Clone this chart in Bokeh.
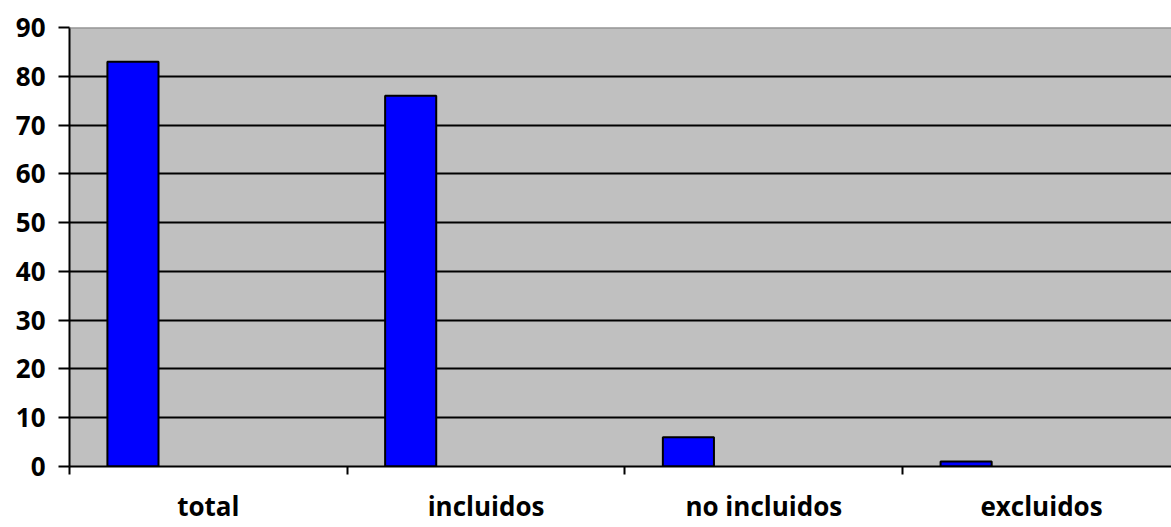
from bokeh.plotting import figure
from bokeh.models import Range1d, FixedTicker, Span
from bokeh.embed import file_html
from bokeh.resources import INLINE
import numpy as np

categories = ["total", "incluidos", "no incluidos", "excluidos"]
values = [83, 76, 6, 1]
y_ticks = [0, 10, 20, 30, 40, 50, 60, 70, 80, 90]

FONT = "Open Sans"
idx = np.arange(len(categories))
bar_offset = 0.2285
bar_width = 0.184

p = figure(width=1171, height=527, output_backend="svg", toolbar_location=None,
           x_range=Range1d(0, 3.968), y_range=Range1d(0, 90),
           min_border_left=69, min_border_right=0, min_border_top=27, min_border_bottom=61)
p.background_fill_color = "#C0C0C0"
p.border_fill_color = "white"
p.outline_line_color = None

p.vbar(x=idx + bar_offset, top=values, width=bar_width, bottom=0,
       fill_color="#0000FF", line_color="black", line_width=2)

# grid
p.xgrid.grid_line_color = None
p.ygrid.ticker = FixedTicker(ticks=y_ticks[1:-1])
p.ygrid.grid_line_color = "black"
p.ygrid.grid_line_width = 2
p.ygrid.level = "underlay"

top_border = Span(location=90, dimension="width", line_color="#808080", line_width=2)
p.add_layout(top_border)

# y axis
yax = p.yaxis[0]
yax.ticker = FixedTicker(ticks=y_ticks)
yax.axis_line_color = "black"
yax.axis_line_width = 2
yax.major_tick_line_color = "black"
yax.major_tick_line_width = 2
yax.major_tick_out = 11
yax.major_tick_in = 0
yax.minor_tick_line_color = None
yax.major_label_standoff = 13
yax.major_label_text_font = FONT
yax.major_label_text_font_style = "bold"
yax.major_label_text_font_size = "26px"
yax.major_label_text_color = "black"

# x axis: labels at category centres, short ticks at category boundaries
xax = p.xaxis[0]
xax.ticker = FixedTicker(ticks=list(idx + 0.5), minor_ticks=list(idx))
xax.major_label_overrides = {float(i + 0.5): c for i, c in zip(idx, categories)}
xax.axis_line_color = "black"
xax.axis_line_width = 2
xax.major_tick_line_color = None
xax.major_tick_out = 0
xax.major_tick_in = 0
xax.minor_tick_line_color = "black"
xax.minor_tick_line_width = 2
xax.minor_tick_out = 8
xax.minor_tick_in = 0
xax.major_label_standoff = 13
xax.major_label_text_font = FONT
xax.major_label_text_font_style = "bold"
xax.major_label_text_font_size = "26px"
xax.major_label_text_color = "black"

open("out.html", "w").write(file_html(p, INLINE))
